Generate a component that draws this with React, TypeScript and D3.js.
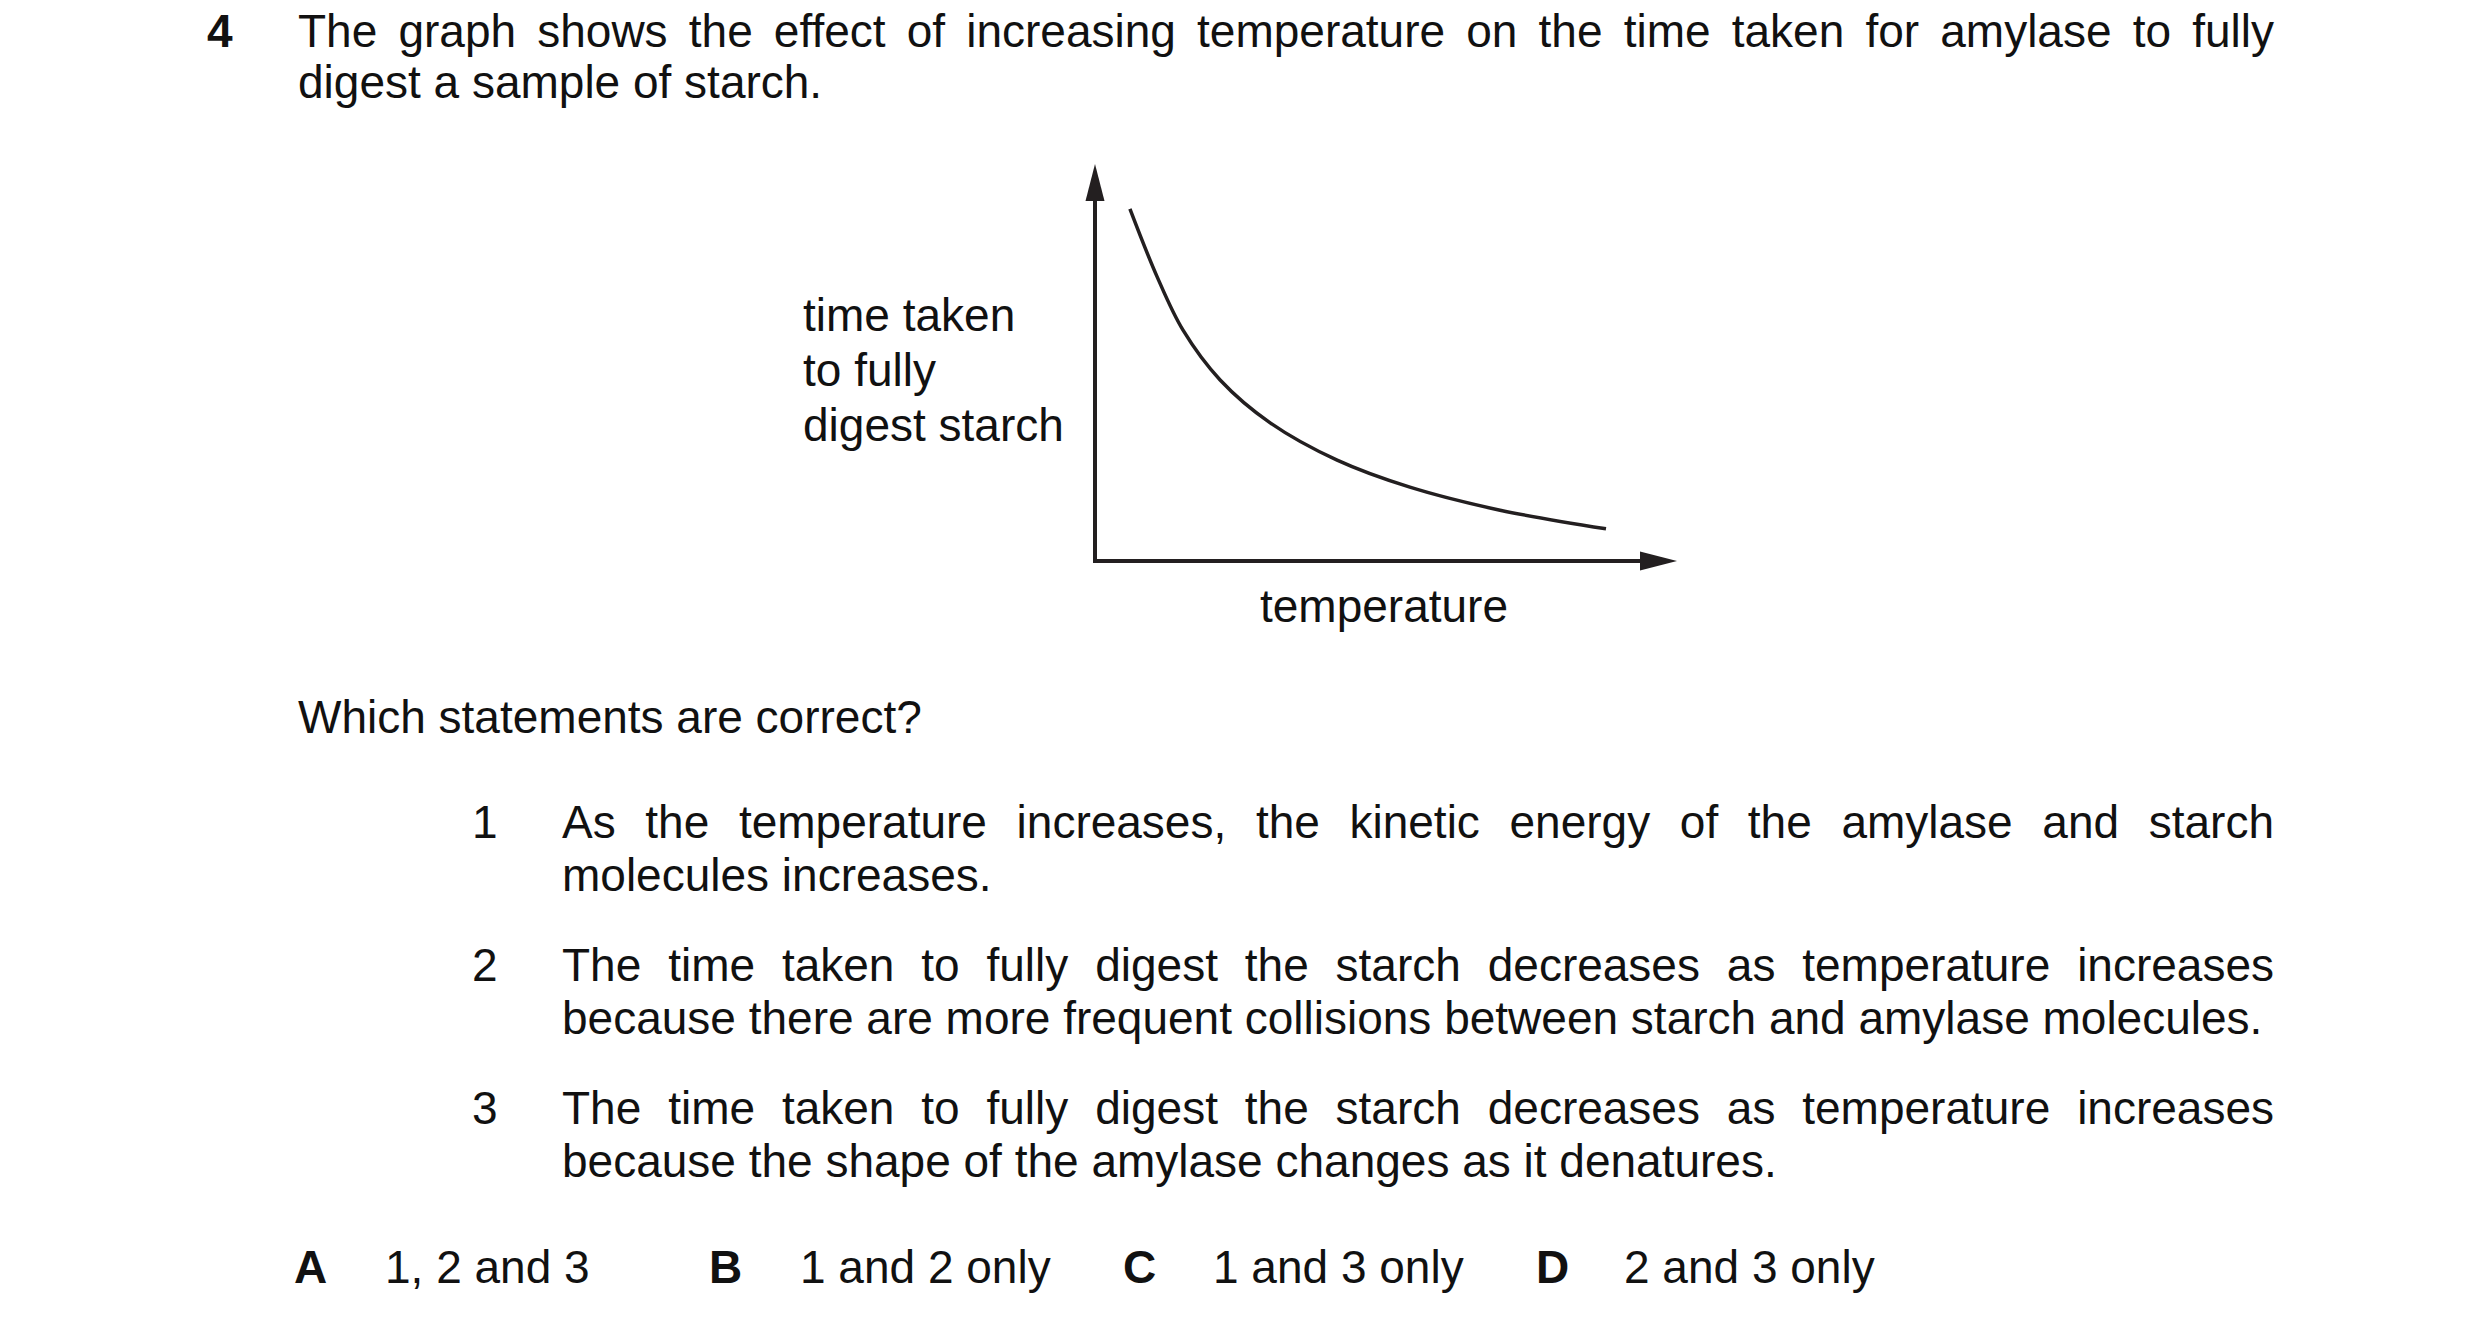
import React, { useMemo } from 'react';
import * as d3 from 'd3';

// curve (arbitrary units, axes run 0..100)
const temperature = [6, 10.7, 15.1, 21.5, 30.1, 41.6, 54.1, 69.6, 87.8];
const timeTaken = [88.7, 71.5, 58.2, 45.6, 34.8, 25.4, 18.6, 12.8, 8.1];
const axisMax = 100;

const yLabelLines = ['time taken', 'to fully', 'digest starch'];
const xLabel = 'temperature';

const questionNumber = '4';
const stemLines = [
  'The graph shows the effect of increasing temperature on the time taken for amylase to fully',
  'digest a sample of starch.',
];
const prompt = 'Which statements are correct?';
const statementNumbers = ['1', '2', '3'];
const statementLines = [
  ['As the temperature increases, the kinetic energy of the amylase and starch', 'molecules increases.'],
  ['The time taken to fully digest the starch decreases as temperature increases', 'because there are more frequent collisions between starch and amylase molecules.'],
  ['The time taken to fully digest the starch decreases as temperature increases', 'because the shape of the amylase changes as it denatures.'],
];
const optionKeys = ['A', 'B', 'C', 'D'];
const optionTexts = ['1, 2 and 3', '1 and 2 only', '1 and 3 only', '2 and 3 only'];

const W = 2480;
const H = 1330;
const FONT = "'Liberation Sans', Arial, Helvetica, sans-serif";
const FS = 46;
const INK = '#231f20';
const RIGHT = 2274;

let ctx: CanvasRenderingContext2D | null = null;
function textWidth(t: string, bold = false) {
  if (!ctx) ctx = document.createElement('canvas').getContext('2d');
  ctx!.font = `${bold ? 'bold ' : ''}${FS}px 'Liberation Sans'`;
  return ctx!.measureText(t).width;
}

// stretch the gaps between words so the line ends at RIGHT
function Justified({ x, y, text }: { x: number; y: number; text: string }) {
  const gaps = text.split(' ').length - 1;
  const extra = gaps > 0 ? (RIGHT - x - textWidth(text)) / gaps : 0;
  return (
    <text x={x} y={y} wordSpacing={extra}>
      {text}
    </text>
  );
}

function Graph() {
  const x = d3.scaleLinear().domain([0, axisMax]).range([1095, 1677]);
  const y = d3.scaleLinear().domain([0, axisMax]).range([561, 164]);

  const points = temperature.map((t, i) => [t, timeTaken[i]] as [number, number]);
  const line = d3
    .line<[number, number]>()
    .x((d) => x(d[0]))
    .y((d) => y(d[1]))
    .curve(d3.curveCatmullRom.alpha(0.5));

  const x0 = x(0);
  const y0 = y(0);
  const arrowLen = 37;
  const arrowHalf = 9.5;
  const yTip = y(axisMax);
  const xTip = x(axisMax);

  return (
    <g>
      <line x1={x0} y1={y0} x2={x0} y2={yTip + arrowLen - 2} stroke={INK} strokeWidth={4} />
      <line x1={x0 - 2} y1={y0} x2={xTip - arrowLen + 2} y2={y0} stroke={INK} strokeWidth={4} />
      <path
        d={`M${x0},${yTip} L${x0 + arrowHalf},${yTip + arrowLen} L${x0 - arrowHalf},${yTip + arrowLen} Z`}
        fill={INK}
      />
      <path
        d={`M${xTip},${y0} L${xTip - arrowLen},${y0 - arrowHalf} L${xTip - arrowLen},${y0 + arrowHalf} Z`}
        fill={INK}
      />
      <path d={line(points) || ''} fill="none" stroke={INK} strokeWidth={3.5} />

      <g>
        {yLabelLines.map((l, i) => (
          <text key={l} x={803} y={331 + i * 55}>
            {l}
          </text>
        ))}
      </g>
      <text x={(x0 + xTip) / 2 - 2} y={622} textAnchor="middle">
        {xLabel}
      </text>
    </g>
  );
}

export default function App() {
  const optionKeyX = [294, 709, 1123, 1536];
  const optionTextX = [385, 800, 1213, 1624];

  const stem = useMemo(
    () => (
      <g>
        <text x={207} y={47} fontWeight="bold">
          {questionNumber}
        </text>
        <Justified x={298} y={47} text={stemLines[0]} />
        <text x={298} y={98}>
          {stemLines[1]}
        </text>
      </g>
    ),
    []
  );

  return (
    <svg
      width={W}
      height={H}
      viewBox={`0 0 ${W} ${H}`}
      style={{ position: 'absolute', left: 0, top: 0, background: '#fff', display: 'block' }}
      fontFamily={FONT}
      fontSize={FS}
      fill="#111"
    >
      <rect width={W} height={H} fill="#fff" />
      {stem}
      <Graph />
      <text x={298} y={733}>
        {prompt}
      </text>
      {statementNumbers.map((n, i) => (
        <g key={n}>
          <text x={472} y={838 + i * 143}>
            {n}
          </text>
          <Justified x={562} y={838 + i * 143} text={statementLines[i][0]} />
          <text x={562} y={891 + i * 143}>
            {statementLines[i][1]}
          </text>
        </g>
      ))}
      {optionKeys.map((k, i) => (
        <g key={k}>
          <text x={optionKeyX[i]} y={1283} fontWeight="bold">
            {k}
          </text>
          <text x={optionTextX[i]} y={1283}>
            {optionTexts[i]}
          </text>
        </g>
      ))}
    </svg>
  );
}
